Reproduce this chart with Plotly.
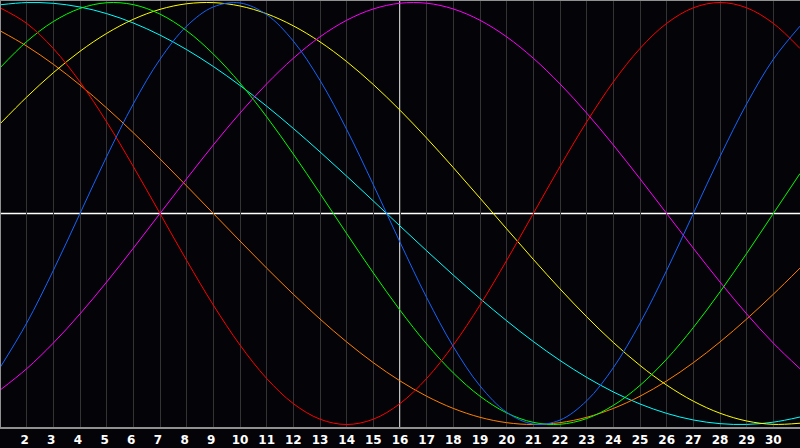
import plotly.graph_objects as go

days = list(range(1, 32))

physical = [-0.7308, -0.5196, -0.2698, 0.0, 0.2698, 0.5196, 0.7308, 0.8879, 0.9791, 0.9977,
            0.9423, 0.8170, 0.6311, 0.3984, 0.1362, -0.1362, -0.3984, -0.6311, -0.8170, -0.9423,
            -0.9977, -0.9791, -0.8879, -0.7308, -0.5196, -0.2698, 0.0, 0.2698, 0.5196, 0.7308, 0.8879]
emotional = [0.9749, 0.9010, 0.7818, 0.6235, 0.4339, 0.2225, 0.0, -0.2225, -0.4339, -0.6235,
             -0.7818, -0.9010, -0.9749, -1.0, -0.9749, -0.9010, -0.7818, -0.6235, -0.4339, -0.2225,
             0.0, 0.2225, 0.4339, 0.6235, 0.7818, 0.9010, 0.9749, 1.0, 0.9749, 0.9010, 0.7818]
intellectual = [0.6901, 0.8146, 0.9096, 0.9718, 0.9989, 0.9898, 0.9450, 0.8660, 0.7557, 0.6182,
                0.4582, 0.2817, 0.0951, -0.0951, -0.2817, -0.4582, -0.6182, -0.7557, -0.8660, -0.9450,
                -0.9898, -0.9989, -0.9718, -0.9096, -0.8146, -0.6901, -0.5406, -0.3717, -0.1893, 0.0, 0.1893]
intuitive = [-0.8372, -0.7357, -0.6142, -0.4759, -0.3247, -0.1646, 0.0, 0.1646, 0.3247, 0.4759,
             0.6142, 0.7357, 0.8372, 0.9158, 0.9694, 0.9966, 0.9966, 0.9694, 0.9158, 0.8372,
             0.7357, 0.6142, 0.4759, 0.3247, 0.1646, 0.0, -0.1646, -0.3247, -0.4759, -0.6142, -0.7357]
aesthetic = [0.4245, 0.5517, 0.6672, 0.7687, 0.8536, 0.9204, 0.9675, 0.9940, 0.9993, 0.9834,
             0.9465, 0.8894, 0.8133, 0.7200, 0.6112, 0.4894, 0.3572, 0.2174, 0.0730, -0.0730,
             -0.2174, -0.3572, -0.4894, -0.6112, -0.7200, -0.8133, -0.8894, -0.9465, -0.9834, -0.9993, -0.9940]
awareness = [0.8660, 0.7934, 0.7071, 0.6088, 0.5, 0.3827, 0.2588, 0.1305, 0.0, -0.1305,
             -0.2588, -0.3827, -0.5, -0.6088, -0.7071, -0.7934, -0.8660, -0.9239, -0.9659, -0.9914,
             -1.0, -0.9914, -0.9659, -0.9239, -0.8660, -0.7934, -0.7071, -0.6088, -0.5, -0.3827, -0.2588]
spiritual = [0.9890, 0.9996, 0.9961, 0.9786, 0.9473, 0.9028, 0.8456, 0.7766, 0.6966, 0.6068,
             0.5085, 0.4031, 0.2920, 0.1769, 0.0593, -0.0593, -0.1769, -0.2920, -0.4031, -0.5085,
             -0.6068, -0.6966, -0.7766, -0.8457, -0.9028, -0.9473, -0.9786, -0.9961, -0.9996, -0.9890, -0.9646]

tick_days = list(range(2, 31))
tick_labels = [str(d) + (" " if d < 10 else "") for d in tick_days]
today = 16

series = [
    ("Spiritual", spiritual, "#00ffff"),
    ("Awareness", awareness, "#ff8000"),
    ("Aesthetic", aesthetic, "#ffff00"),
    ("Intuitive", intuitive, "#ff00ff"),
    ("Intellectual", intellectual, "#00ff00"),
    ("Emotional", emotional, "#ff0000"),
    ("Physical", physical, "#1464ff"),
]

fig = go.Figure()
for name, vals, col in series:
    fig.add_trace(go.Scatter(x=days, y=vals, mode="lines", name=name,
                             line=dict(color=col, width=1, shape="spline", smoothing=1.0),
                             hoverinfo="skip"))

fig.update_layout(
    width=800, height=448,
    margin=dict(l=0, r=0, t=0, b=20),
    paper_bgcolor="#040307", plot_bgcolor="#040307",
    showlegend=False,
    xaxis=dict(range=[1, 31], tickmode="array", tickvals=tick_days, ticktext=tick_labels,
               showgrid=True, gridcolor="#333333", gridwidth=1, zeroline=False,
               showline=False, ticks="", ticklabelstandoff=3,
               tickfont=dict(family="DejaVu Sans", size=12, color="#ffffff", weight="bold"),
               fixedrange=True),
    yaxis=dict(range=[-1.0166, 1.0118], showgrid=False, zeroline=False,
               showticklabels=False, fixedrange=True),
    shapes=[
        dict(type="line", xref="x", yref="paper", x0=today, x1=today, y0=0, y1=1,
             line=dict(color="#ffffff", width=1.5), layer="below"),
        dict(type="line", xref="paper", yref="y", x0=0, x1=1, y0=0, y1=0,
             line=dict(color="#ffffff", width=1.5), layer="below"),
        dict(type="line", xref="paper", yref="paper", x0=0, x1=1, y0=0, y1=0,
             line=dict(color="#909090", width=2), layer="above"),
        dict(type="line", xref="paper", yref="paper", x0=0, x1=1, y0=1, y1=1,
             line=dict(color="#909090", width=2), layer="above"),
        dict(type="line", xref="paper", yref="paper", x0=0, x1=0, y0=0, y1=1,
             line=dict(color="#909090", width=2), layer="above"),
    ],
)

fig.write_html("out.html", config={"displayModeBar": False},
               post_script="document.body.style.margin='0';document.body.style.background='#040307';")
